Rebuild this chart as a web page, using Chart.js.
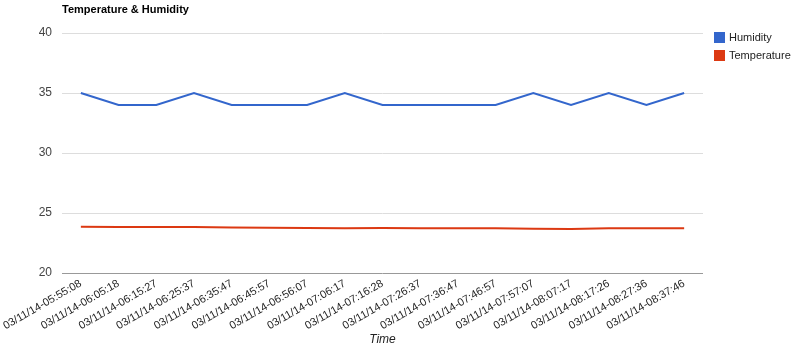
<!DOCTYPE html>
<html>
<head>
<meta charset="utf-8">
<script src="https://cdn.jsdelivr.net/npm/chart.js@4/dist/chart.umd.min.js"></script>
<style>
html,body{margin:0;padding:0;background:#fff;}
#wrap{width:800px;height:347px;}
</style>
</head>
<body>
<div id="wrap"><canvas id="c" width="800" height="347"></canvas></div>
<script>
const categories = ["03/11/14-05:55:08","03/11/14-06:05:18","03/11/14-06:15:27","03/11/14-06:25:37","03/11/14-06:35:47","03/11/14-06:45:57","03/11/14-06:56:07","03/11/14-07:06:17","03/11/14-07:16:28","03/11/14-07:26:37","03/11/14-07:36:47","03/11/14-07:46:57","03/11/14-07:57:07","03/11/14-08:07:17","03/11/14-08:17:26","03/11/14-08:27:36","03/11/14-08:37:46"];
const humidity = [35,34,34,35,34,34,34,35,34,34,34,34,35,34,35,34,35];
const temperature = [23.85,23.84,23.83,23.83,23.8,23.77,23.74,23.72,23.74,23.72,23.72,23.72,23.69,23.67,23.72,23.72,23.72];
const yTicks = [20,25,30,35,40];
const chartTitle = "Temperature & Humidity";
const xTitle = "Time";
const seriesNames = ["Humidity","Temperature"];
const seriesColors = ["#3366cc","#dc3912"];

const FONT = "Arial, 'Liberation Sans', sans-serif";

const overlay = {
  id: 'overlay',
  afterDraw(chart) {
    const ctx = chart.ctx;
    ctx.save();
    ctx.font = "bold 11px " + FONT;
    ctx.fillStyle = "#000";
    ctx.textBaseline = "middle";
    ctx.textAlign = "left";
    ctx.fillText(chartTitle, 62, 10);
    ctx.font = "11px " + FONT;
    seriesNames.forEach((n, i) => {
      const y = 32 + i * 18;
      ctx.fillStyle = seriesColors[i];
      ctx.fillRect(714, y, 11, 11);
      ctx.fillStyle = "#222";
      ctx.fillText(n, 729, y + 6);
    });
    ctx.restore();
  }
};

new Chart(document.getElementById('c'), {
  type: 'line',
  data: {
    labels: categories,
    datasets: [
      { label: seriesNames[0], data: humidity, borderColor: seriesColors[0], backgroundColor: seriesColors[0], borderWidth: 2, pointRadius: 0, tension: 0 },
      { label: seriesNames[1], data: temperature, borderColor: seriesColors[1], backgroundColor: seriesColors[1], borderWidth: 2, pointRadius: 0, tension: 0 }
    ]
  },
  options: {
    responsive: false,
    animation: false,
    devicePixelRatio: 1,
    layout: { padding: { left: 0, right: 97, top: 33, bottom: 0 } },
    plugins: { legend: { display: false }, title: { display: false }, tooltip: { enabled: false } },
    scales: {
      x: {
        offset: true,
        grid: { display: false, drawTicks: false },
        border: { display: false },
        ticks: {
          autoSkip: false, maxRotation: 30, minRotation: 30,
          color: "#222", font: { family: FONT, size: 11 }, padding: 4
        },
        title: { display: true, text: xTitle, color: "#222", font: { family: FONT, size: 12, style: 'italic' }, padding: { top: 0, bottom: 0 } },
        afterFit(scale) { scale.height = 74; scale.paddingLeft = 0; scale.paddingRight = 0; }
      },
      y: {
        min: 20, max: 40,
        afterBuildTicks(scale) { scale.ticks = yTicks.map(v => ({ value: v })); },
        grid: {
          drawTicks: false,
          color: ctx => ctx.tick && ctx.tick.value === 20 ? "#999999" : "#dddddd",
          lineWidth: 1
        },
        border: { display: false },
        ticks: { color: "#444", font: { family: FONT, size: 12 }, padding: 10 },
        afterFit(scale) { scale.width = 62; scale.paddingTop = 0; scale.paddingBottom = 0; }
      }
    }
  },
  plugins: [overlay]
});
</script>
</body>
</html>
